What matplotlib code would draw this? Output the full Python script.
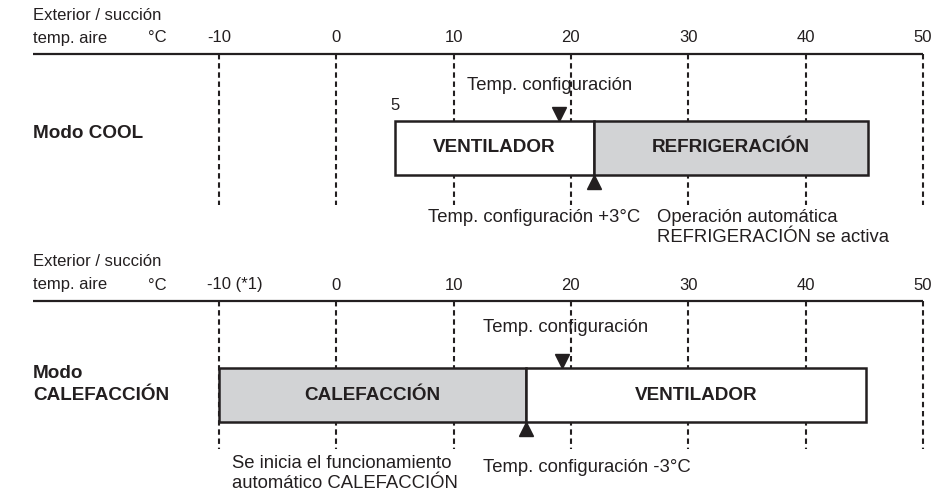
import matplotlib
matplotlib.use("Agg")
import matplotlib.pyplot as plt

plt.rcParams['font.family'] = ['Liberation Sans', 'DejaVu Sans']

# temperature scale (deg C)
ticks = [-10, 0, 10, 20, 30, 40, 50]
cool_tick_labels = ['-10', '0', '10', '20', '30', '40', '50']
heat_tick_labels = ['', '0', '10', '20', '30', '40', '50']

# COOL mode: bar segments (start, end, label, fill)
cool_starts = [5, 22]
cool_ends = [22, 45.3]
cool_labels = ['VENTILADOR', 'REFRIGERACIÓN']
cool_set = 19       # Temp. configuración
cool_switch = 22    # Temp. configuración +3°C

# HEAT mode
heat_starts = [-10, 16.2]
heat_ends = [16.2, 45.2]
heat_labels = ['CALEFACCIÓN', 'VENTILADOR']
heat_set = 19.2
heat_switch = 16.2  # Temp. configuración -3°C

INK = '#231f20'
GRAY = '#d2d3d5'

fig = plt.figure(figsize=(9.51, 4.93), dpi=100)
ax = fig.add_axes([0, 0, 1, 1])
# pixel -> degC mapping of the original drawing
X0, SC = 336.3, 11.73
def px(p):
    return (p - X0) / SC
ax.set_xlim(px(0), px(951))
ax.set_ylim(493, 0)
ax.axis('off')

fsh = 12     # header / tick labels
fs = 13.3    # notes
fsb = 13.6   # bold labels


def panel(y0, tick_labels, starts, ends, labels, fills, set_t, switch_t, dash_len):
    # header
    ax.text(px(33), y0 - 39, 'Exterior / succión', fontsize=fsh, color=INK, va='center')
    ax.text(px(33), y0 - 16, 'temp. aire', fontsize=fsh, color=INK, va='center')
    ax.text(px(157), y0 - 16, '°C', fontsize=fsh, color=INK, va='center', ha='center')
    for t, lab in zip(ticks, tick_labels):
        ax.text(t, y0 - 16, lab, fontsize=fsh, color=INK, va='center', ha='center')
    # axis line and dashed guides
    ax.plot([px(33), ticks[-1]], [y0, y0], color=INK, lw=1.6, solid_capstyle='butt', zorder=3)
    for t in ticks:
        ax.plot([t, t], [y0, y0 + dash_len], color=INK, lw=1.5,
                linestyle=(0, (2.6, 1.8)), zorder=1)
    # bar segments
    for s, e, lab, fc in zip(starts, ends, labels, fills):
        ax.bar((s + e) / 2, 54, width=e - s, bottom=y0 + 67, color=fc,
               edgecolor=INK, linewidth=1.8, zorder=2)
        ax.text((s + e) / 2, y0 + 94, lab, fontsize=fsb, fontweight='bold',
                color=INK, ha='center', va='center', zorder=4)
    # arrows
    ax.plot(set_t, y0 + 60, marker='v', ms=9.5, color=INK, zorder=5)
    ax.plot(switch_t, y0 + 128, marker='^', ms=9.5, color=INK, zorder=5)


panel(54, cool_tick_labels, cool_starts, cool_ends, cool_labels, ['white', GRAY],
      cool_set, cool_switch, 151)
ax.text(px(33), 54 + 79, 'Modo COOL', fontsize=fsb, fontweight='bold', color=INK, va='center')
ax.text(cool_starts[0], 105, '5', fontsize=fsh, color=INK, ha='center', va='center')
ax.text(px(467), 85, 'Temp. configuración', fontsize=fs, color=INK, va='center')
ax.text(px(534), 217, 'Temp. configuración +3°C', fontsize=fs, color=INK, ha='center', va='center')
ax.text(px(657), 217, 'Operación automática', fontsize=fs, color=INK, va='center')
ax.text(px(657), 238, 'REFRIGERACIÓN se activa', fontsize=fs, color=INK, va='center')

panel(301, heat_tick_labels, heat_starts, heat_ends, heat_labels, [GRAY, 'white'],
      heat_set, heat_switch, 148)
ax.text(px(207), 301 - 16, '-10 (*1)', fontsize=fsh, color=INK, va='center')
ax.text(px(33), 373, 'Modo', fontsize=fsb, fontweight='bold', color=INK, va='center')
ax.text(px(33), 395, 'CALEFACCIÓN', fontsize=fsb, fontweight='bold', color=INK, va='center')
ax.text(px(483), 328, 'Temp. configuración', fontsize=fs, color=INK, va='center')
ax.text(px(483), 468, 'Temp. configuración -3°C', fontsize=fs, color=INK, va='center')
ax.text(px(232), 463, 'Se inicia el funcionamiento', fontsize=fs, color=INK, va='center')
ax.text(px(232), 483, 'automático CALEFACCIÓN', fontsize=fs, color=INK, va='center')

fig.savefig('out.png', dpi=100)
